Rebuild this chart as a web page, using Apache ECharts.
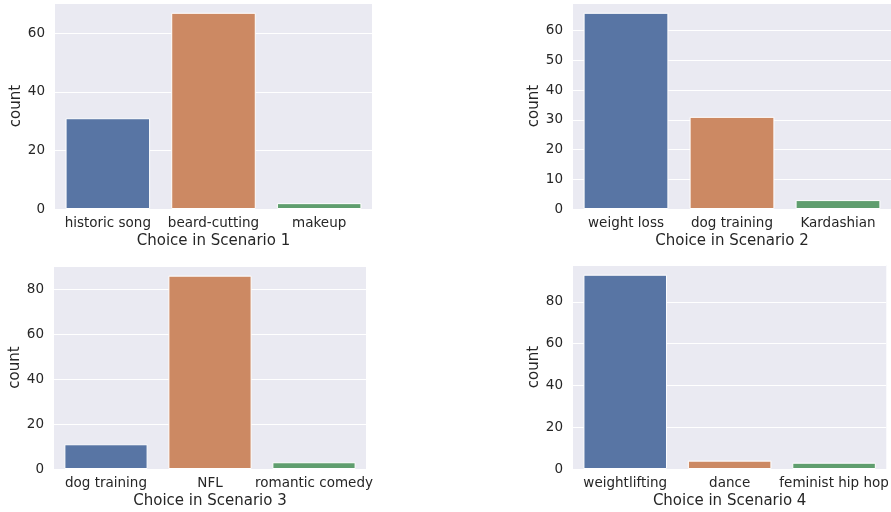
<!DOCTYPE html>
<html>
<head>
<meta charset="utf-8">
<script src="https://cdn.jsdelivr.net/npm/echarts@6/dist/echarts.min.js"></script>
<style>
html,body{margin:0;padding:0;background:#fff;}
#chart{width:891px;height:512px;}
</style>
</head>
<body>
<div id="chart"></div>
<script>
const categories1 = ["historic song", "beard-cutting", "makeup"];
const counts1 = [31, 67, 2];
const categories2 = ["weight loss", "dog training", "Kardashian"];
const counts2 = [66, 31, 3];
const categories3 = ["dog training", "NFL", "romantic comedy"];
const counts3 = [11, 86, 3];
const categories4 = ["weightlifting", "dance", "feminist hip hop"];
const counts4 = [93, 4, 3];
const xTitles = ["Choice in Scenario 1", "Choice in Scenario 2", "Choice in Scenario 3", "Choice in Scenario 4"];
const yTitle = "count";
const yIntervals = [20, 10, 20, 20];

const barColors = ["#5875A4", "#CC8963", "#5F9E6E"];
const textColor = "#262626";
const font = "DejaVu Sans";

const panels = [
  {cats: categories1, vals: counts1, grid: {left: 55, top: 3, width: 317, height: 206}},
  {cats: categories2, vals: counts2, grid: {left: 573, top: 3, width: 318, height: 206}},
  {cats: categories3, vals: counts3, grid: {left: 54, top: 266, width: 312, height: 203}},
  {cats: categories4, vals: counts4, grid: {left: 573, top: 265, width: 318, height: 204}}
];

const grids = [], xAxes = [], yAxes = [], series = [];
panels.forEach((p, i) => {
  grids.push(Object.assign({show: true, backgroundColor: "#EAEAF2", borderWidth: 0}, p.grid));
  xAxes.push({
    type: "category", gridIndex: i, data: p.cats,
    axisLine: {show: false}, axisTick: {show: false},
    axisLabel: {color: textColor, fontSize: 13.5, fontFamily: font, margin: 7, interval: 0},
    name: xTitles[i], nameLocation: "middle", nameGap: 25,
    nameTextStyle: {color: textColor, fontSize: 15, fontFamily: font}
  });
  const maxV = Math.max.apply(null, p.vals) * 1.05;
  yAxes.push({
    type: "value", gridIndex: i, min: 0, max: maxV, interval: yIntervals[i],
    axisLine: {show: false}, axisTick: {show: false},
    axisLabel: {color: textColor, fontSize: 13.5, fontFamily: font, margin: 10, showMaxLabel: false},
    splitLine: {show: true, lineStyle: {color: "#ffffff", width: 1}},
    name: yTitle, nameLocation: "middle", nameGap: 29,
    nameTextStyle: {color: textColor, fontSize: 15, fontFamily: font}
  });
  series.push({
    type: "bar", xAxisIndex: i, yAxisIndex: i,
    barCategoryGap: "20%",
    data: p.vals.map((v, j) => ({value: v, itemStyle: {color: barColors[j]}})),
    itemStyle: {borderColor: "#ffffff", borderWidth: 1},
    emphasis: {disabled: true},
    animation: false
  });
});

const chart = echarts.init(document.getElementById("chart"), null, {renderer: "canvas"});
chart.setOption({
  animation: false,
  backgroundColor: "#ffffff",
  textStyle: {fontFamily: font},
  grid: grids, xAxis: xAxes, yAxis: yAxes, series: series
});
</script>
</body>
</html>
